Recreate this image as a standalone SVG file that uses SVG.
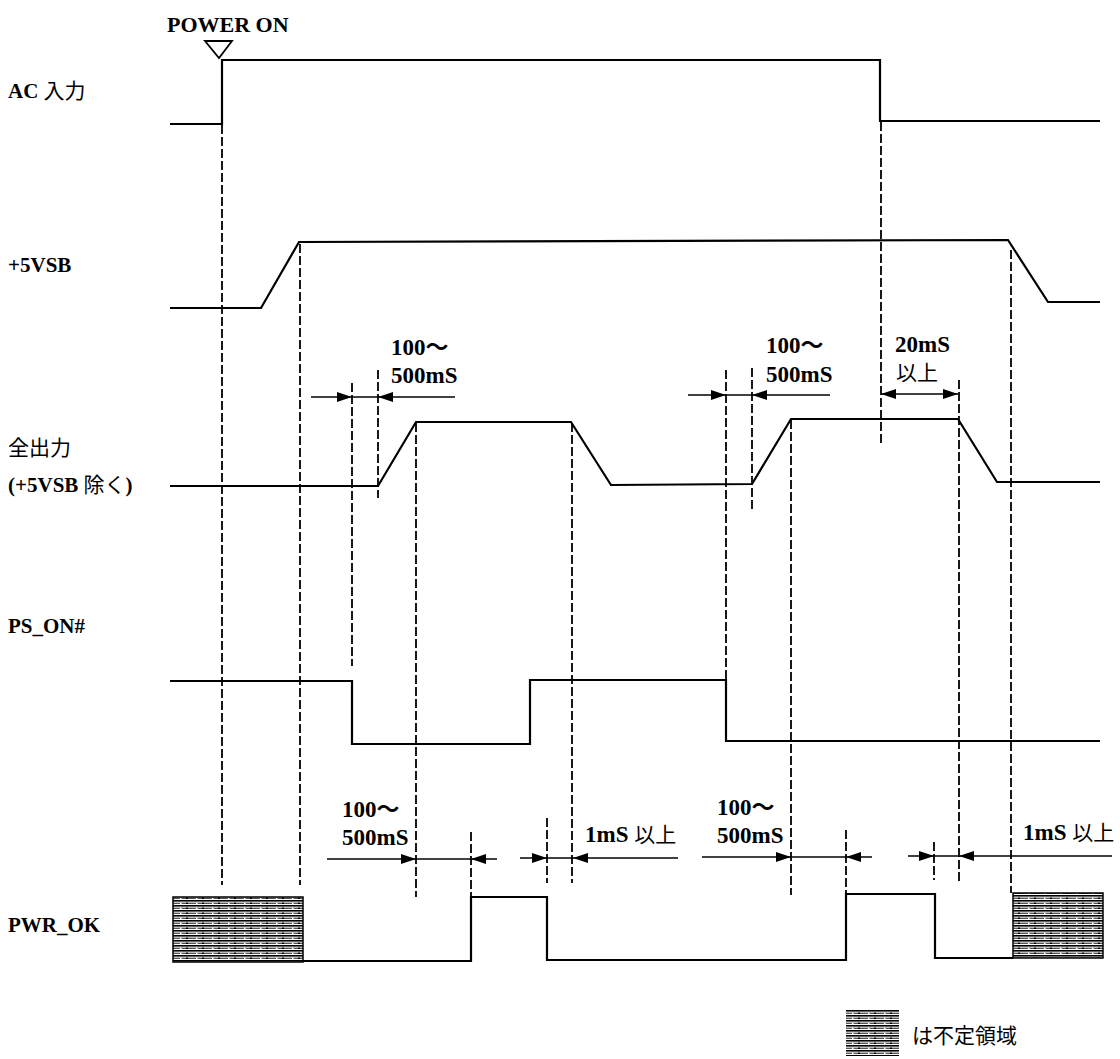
<svg xmlns="http://www.w3.org/2000/svg" width="1120" height="1059" viewBox="0 0 1120 1059">
<style>
.sig{fill:none;stroke:#000;stroke-width:2.2;stroke-linejoin:miter}
.dash{fill:none;stroke:#000;stroke-width:1.8;stroke-dasharray:9 3}
.dim{fill:none;stroke:#000;stroke-width:1.5}
.lbl{font-family:"Liberation Serif","Noto Sans CJK JP",serif;font-size:21px;font-weight:bold;fill:#000}
.ann{font-family:"Liberation Serif","Noto Sans CJK JP",serif;font-size:23px;font-weight:bold;fill:#000}
.jp{font-family:"Noto Sans CJK JP",sans-serif;font-size:21px;font-weight:normal;fill:#000}
.hatch{fill:url(#hp);stroke:#000;stroke-width:1.5}
</style>
<defs>
<pattern id="hp" width="16" height="5" patternUnits="userSpaceOnUse">
<rect x="0" y="0" width="16" height="5" fill="#fff"/>
<rect x="0" y="0" width="16" height="1.6" fill="#000"/>
<rect x="0" y="2.6" width="16" height="1.4" fill="#555"/>
<rect x="10" y="2.6" width="2" height="1.4" fill="#000"/>
<rect x="4" y="2.6" width="1.5" height="1.4" fill="#fff"/>
</pattern>
<marker id="ah" viewBox="0 0 15 10" refX="15" refY="5" markerWidth="15" markerHeight="10" markerUnits="userSpaceOnUse" orient="auto">
<path d="M0,0 L15,5 L0,10 Z" fill="#000"/>
</marker>
</defs>

<g id="labels">
<text class="lbl" x="8" y="98">AC <tspan class="jp">入力</tspan></text>
<text class="lbl" x="8" y="272">+5VSB</text>
<text class="lbl" x="8" y="455"><tspan class="jp">全出力</tspan></text>
<text class="lbl" x="8" y="492">(+5VSB <tspan class="jp">除く</tspan>)</text>
<text class="lbl" x="8" y="633">PS_ON#</text>
<text class="lbl" x="8" y="932">PWR_OK</text>
</g>

<g id="power-on">
<text class="ann" x="167" y="32" style="font-size:22px">POWER ON</text>
<path d="M205,41 L232,41 L219,58 Z" fill="none" stroke="#000" stroke-width="1.8"/>
</g>

<g id="sig-ac">
<path class="sig" d="M170,124 L222,124 L222,60 L880,60 L880,121 L1100,121"/>
</g>
<g id="sig-5vsb">
<path class="sig" d="M170,308 L261,308 L299,242 L1008,240 L1048,302 L1100,302"/>
</g>
<g id="sig-all">
<path class="sig" d="M170,486 L378,486 L416,422 L571,422 L611,485 L752,484 L791,419 L958,419 L997,482 L1100,482"/>
</g>
<g id="sig-pson">
<path class="sig" d="M170,681 L352,681 L352,744 L530,744 L530,680 L726,680 L726,741 L1100,741"/>
</g>
<g id="sig-pwrok">
<rect class="hatch" x="173" y="897" width="130" height="65"/>
<rect class="hatch" x="1013" y="893" width="90" height="65"/>
<path class="sig" d="M303,961 L471,961 L471,897 L547,897 L547,960 L846,960 L846,894 L935,894 L935,958 L1013,958"/>
</g>

<g id="connectors">
<line class="dash" x1="222" y1="125" x2="222" y2="885"/>
<line class="dash" x1="300" y1="244" x2="300" y2="885"/>
<line class="dash" x1="352" y1="383" x2="352" y2="666"/>
<line class="dash" x1="378" y1="370" x2="378" y2="498"/>
<line class="dash" x1="416" y1="423" x2="416" y2="897"/>
<line class="dash" x1="572" y1="423" x2="572" y2="883"/>
<line class="dash" x1="471" y1="832" x2="471" y2="897"/>
<line class="dash" x1="547" y1="818" x2="547" y2="883"/>
<line class="dash" x1="726" y1="370" x2="726" y2="680"/>
<line class="dash" x1="752" y1="368" x2="752" y2="510"/>
<line class="dash" x1="791" y1="420" x2="791" y2="895"/>
<line class="dash" x1="881" y1="122" x2="881" y2="445"/>
<line class="dash" x1="959" y1="380" x2="959" y2="882"/>
<line class="dash" x1="846" y1="830" x2="846" y2="894"/>
<line class="dash" x1="934" y1="842" x2="934" y2="880"/>
<line class="dash" x1="1011" y1="250" x2="1011" y2="893"/>

<line class="dim" x1="311" y1="397" x2="352" y2="397" marker-end="url(#ah)"/>
<line class="dim" x1="352" y1="397" x2="378" y2="397"/>
<line class="dim" x1="455" y1="397" x2="378" y2="397" marker-end="url(#ah)"/>

<line class="dim" x1="688" y1="395" x2="726" y2="395" marker-end="url(#ah)"/>
<line class="dim" x1="726" y1="395" x2="752" y2="395"/>
<line class="dim" x1="830" y1="395" x2="752" y2="395" marker-end="url(#ah)"/>

<line class="dim" x1="920" y1="394" x2="881" y2="394" marker-end="url(#ah)"/>
<line class="dim" x1="920" y1="394" x2="958" y2="394" marker-end="url(#ah)"/>

<line class="dim" x1="327" y1="859" x2="416" y2="859" marker-end="url(#ah)"/>
<line class="dim" x1="416" y1="859" x2="471" y2="859"/>
<line class="dim" x1="497" y1="859" x2="471" y2="859" marker-end="url(#ah)"/>

<line class="dim" x1="520" y1="858" x2="547" y2="858" marker-end="url(#ah)"/>
<line class="dim" x1="547" y1="858" x2="573" y2="858"/>
<line class="dim" x1="678" y1="858" x2="573" y2="858" marker-end="url(#ah)"/>

<line class="dim" x1="702" y1="857" x2="791" y2="857" marker-end="url(#ah)"/>
<line class="dim" x1="791" y1="857" x2="846" y2="857"/>
<line class="dim" x1="872" y1="857" x2="846" y2="857" marker-end="url(#ah)"/>

<line class="dim" x1="908" y1="856" x2="934" y2="856" marker-end="url(#ah)"/>
<line class="dim" x1="934" y1="856" x2="959" y2="856"/>
<line class="dim" x1="1112" y1="856" x2="959" y2="856" marker-end="url(#ah)"/>
</g>

<g id="annotations">
<text class="ann" x="391" y="355">100〜</text>
<text class="ann" x="391" y="383">500mS</text>
<text class="ann" x="766" y="353">100〜</text>
<text class="ann" x="766" y="382">500mS</text>
<text class="ann" x="895" y="352">20mS</text>
<text class="jp" x="896" y="380">以上</text>
<text class="ann" x="342" y="817">100〜</text>
<text class="ann" x="342" y="845">500mS</text>
<text class="ann" x="717" y="815">100〜</text>
<text class="ann" x="717" y="843">500mS</text>
<text class="ann" x="585" y="842">1mS <tspan class="jp">以上</tspan></text>
<text class="ann" x="1023" y="840">1mS <tspan class="jp">以上</tspan></text>
</g>

<g id="legend">
<rect class="hatch" x="846" y="1010" width="53" height="46" style="stroke:none"/>
<text class="jp" x="912" y="1043">は不定領域</text>
</g>
</svg>
